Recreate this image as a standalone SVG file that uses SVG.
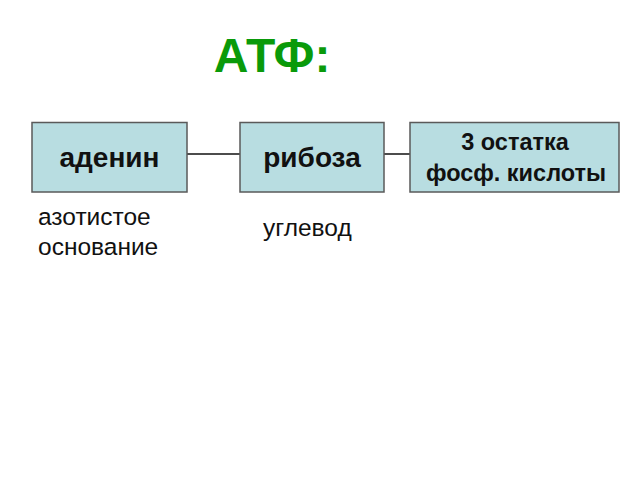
<svg xmlns="http://www.w3.org/2000/svg" width="640" height="480" viewBox="0 0 640 480">
<style>
.box{fill:#b8dde1;stroke:#5a5a5a;stroke-width:1.5}
.bt{font-family:"Liberation Sans",Arial,sans-serif;font-weight:bold;fill:#111;text-anchor:middle}
.lt{font-family:"Liberation Sans",Arial,sans-serif;fill:#111;font-size:24.5px}
.con{stroke:#111;stroke-width:1.5;fill:none}
</style>
<rect width="640" height="480" fill="#fff"/>
<text x="272" y="72" font-family="Liberation Sans,Arial,sans-serif" font-weight="bold" font-size="48" fill="#0a9a0a" text-anchor="middle">АТФ:</text>
<g id="connectors">
<line class="con" x1="187" y1="154" x2="240" y2="154"/>
<line class="con" x1="384" y1="154" x2="410" y2="154"/>
</g>
<g id="adenin">
<rect class="box" x="32" y="122.5" width="155" height="69.5"/>
<text class="bt" x="109.5" y="167" font-size="28">аденин</text>
</g>
<g id="riboza">
<rect class="box" x="240" y="122.5" width="144" height="69.5"/>
<text class="bt" x="312" y="167" font-size="28">рибоза</text>
</g>
<g id="fosf">
<rect class="box" x="410" y="122.5" width="209" height="69.5"/>
<text class="bt" x="515" y="149.5" font-size="23.5">3 остатка</text>
<text class="bt" x="516" y="180.5" font-size="23.5">фосф. кислоты</text>
</g>
<text class="lt" x="38" y="225">азотистое</text>
<text class="lt" x="38" y="255">основание</text>
<text class="lt" x="263" y="236">углевод</text>
</svg>
